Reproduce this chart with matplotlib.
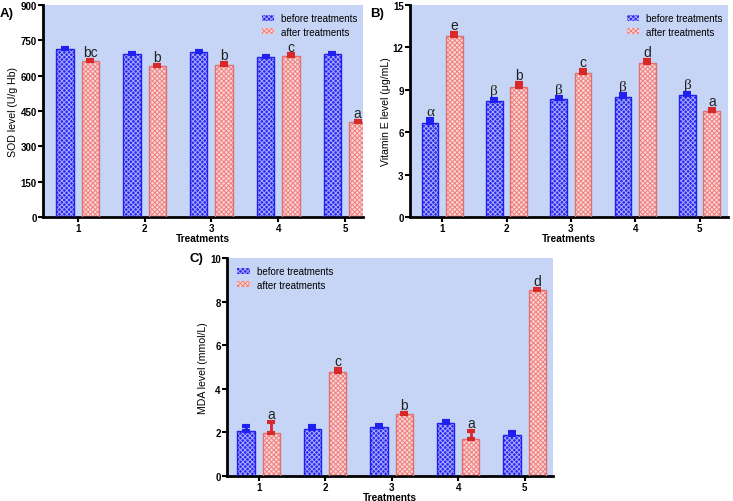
import matplotlib
matplotlib.use("Agg")
import matplotlib.pyplot as plt
import numpy as np
from matplotlib.patches import Patch

treatments = ["1", "2", "3", "4", "5"]

sod_before = [713, 692, 699, 678, 692]
sod_before_err = [6, 5, 5, 5, 5]
sod_after = [661, 640, 647, 683, 403]
sod_after_err = [6, 5, 6, 7, 6]
sod_before_lbl = ["", "", "", "", ""]
sod_after_lbl = ["bc", "b", "b", "c", "a"]

vite_before = [6.64, 8.22, 8.34, 8.47, 8.66]
vite_before_err = [0.3, 0.15, 0.15, 0.2, 0.15]
vite_after = [12.82, 9.18, 10.18, 10.93, 7.49]
vite_after_err = [0.2, 0.3, 0.2, 0.17, 0.15]
vite_before_lbl = ["α", "β", "β", "β", "β"]
vite_after_lbl = ["e", "b", "c", "d", "a"]

mda_before = [2.08, 2.14, 2.27, 2.44, 1.88]
mda_before_err = [0.22, 0.14, 0.09, 0.08, 0.12]
mda_after = [1.97, 4.76, 2.85, 1.68, 8.55]
mda_after_err = [0.52, 0.15, 0.04, 0.38, 0.05]
mda_before_lbl = ["", "", "", "", ""]
mda_after_lbl = ["a", "c", "b", "a", "d"]

BG = "#c6d5f5"
BLUE = "#2020f0"
BLUE_FILL = "#2a2aee"
BLUE_HATCH = "#a8a8ff"
RED = "#d82828"
PINK_FILL = "#fbd6d6"
PINK_HATCH = "#ee8080"
PINK_EDGE = "#e07070"

plt.rcParams['font.family'] = ['Liberation Sans', 'DejaVu Sans']
plt.rcParams['hatch.linewidth'] = 0.7

fig = plt.figure(figsize=(7.33, 5.02), dpi=100)

def draw(ax, before, berr, after, aerr, blbl, albl, yticks, ylabel, xlim, legend_loc, lbl_off, leg_anchor):
    x = np.arange(1, len(treatments) + 1)
    w = 0.26
    off = 0.19
    ax.set_facecolor(BG)
    ax.bar(x - off, before, w, color=BLUE_FILL, edgecolor=BLUE_HATCH, hatch="xxxxxxx", linewidth=0, zorder=2)
    ax.bar(x - off, before, w, color="none", edgecolor=BLUE, linewidth=1.0, zorder=3)
    ax.bar(x + off, after, w, color=PINK_FILL, edgecolor=PINK_HATCH, hatch="xxxxxxx", linewidth=0, zorder=2)
    ax.bar(x + off, after, w, color="none", edgecolor=PINK_EDGE, linewidth=1.0, zorder=3)
    ax.errorbar(x - off, before, yerr=[np.zeros(len(before)), berr], fmt="none",
                ecolor=BLUE, elinewidth=2, capsize=3.2, capthick=3, zorder=4)
    ax.errorbar(x + off, after, yerr=[np.zeros(len(after)), aerr], fmt="none",
                ecolor=RED, elinewidth=2, capsize=3.2, capthick=3, zorder=4)
    for xi, v, e, t in zip(x - off, before, berr, blbl):
        if t:
            ax.text(xi, v + e + lbl_off, t, ha="center", va="bottom", fontsize=11,
                    family=['Liberation Serif', 'DejaVu Serif'], color="#222222")
    for xi, v, e, t in zip(x + off, after, aerr, albl):
        if t:
            ax.text(xi, v + e + lbl_off, t, ha="center", va="bottom", fontsize=10, color="#222222")
    ax.set_xticks(x)
    ax.set_xticklabels(treatments, fontweight="bold", fontsize=7)
    ax.set_yticks(yticks)
    ax.set_yticklabels([str(t) for t in yticks], fontweight="bold", fontsize=7)
    ax.set_ylim(yticks[0], yticks[-1])
    ax.set_xlim(*xlim)
    ax.set_ylabel(ylabel, fontsize=7.6, labelpad=1.5)
    ax.set_xlabel("Treatments", fontweight="bold", fontsize=7.3, labelpad=0)
    for s in ["top", "right"]:
        ax.spines[s].set_visible(False)
    for s in ["left", "bottom"]:
        ax.spines[s].set_linewidth(2)
    ax.tick_params(width=1.5, length=3.5, pad=1)
    handles = [Patch(facecolor=BLUE_FILL, edgecolor=BLUE_HATCH, hatch="xxxxxxx", linewidth=0),
               Patch(facecolor=PINK_FILL, edgecolor=PINK_HATCH, hatch="xxxxxxx", linewidth=0)]
    ax.legend(handles, ["before treatments", "after treatments"], loc=legend_loc,
              bbox_to_anchor=leg_anchor, frameon=False,
              fontsize=7.0, handlelength=1.3, handleheight=0.6, labelspacing=0.35, borderaxespad=0.0,
              handletextpad=0.7)

axA = fig.add_axes([0.0587, 0.5657, 0.4366, 0.4223])
draw(axA, sod_before, sod_before_err, sod_after, sod_after_err, sod_before_lbl, sod_after_lbl,
     [0, 150, 300, 450, 600, 750, 900], "SOD level (U/g Hb)", (0.48, 5.27), "upper right", 4,
     (0.995, 0.98))

axB = fig.add_axes([0.5593, 0.5657, 0.4338, 0.4223])
draw(axB, vite_before, vite_before_err, vite_after, vite_after_err, vite_before_lbl, vite_after_lbl,
     [0, 3, 6, 9, 12, 15], "Vitamin E level (μg/mL)", (0.5, 5.44), "upper right", 0.1,
     (0.995, 0.98))

axC = fig.add_axes([0.3097, 0.0498, 0.4447, 0.434])
draw(axC, mda_before, mda_before_err, mda_after, mda_after_err, mda_before_lbl, mda_after_lbl,
     [0, 2, 4, 6, 8, 10], "MDA level (mmol/L)", (0.525, 5.425), "upper left", 0.05,
     (0.02, 0.98))

fig.text(0.0, 0.972, "A)", fontweight="bold", fontsize=9.5, va="center", ha="left")
fig.text(0.505, 0.972, "B)", fontweight="bold", fontsize=9.5, va="center", ha="left")
fig.text(0.259, 0.484, "C)", fontweight="bold", fontsize=9.5, va="center", ha="left")

fig.savefig("out.png", dpi=100)
